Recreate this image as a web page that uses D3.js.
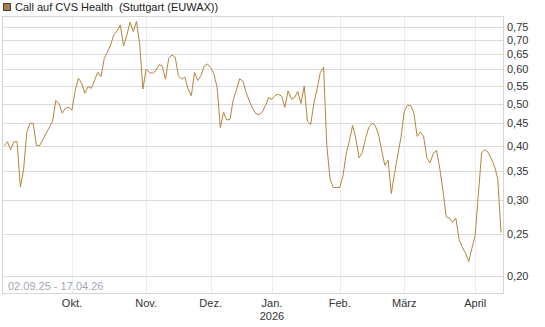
<!DOCTYPE html>
<html>
<head>
<meta charset="utf-8">
<script src="https://cdn.jsdelivr.net/npm/d3@7"></script>
<style>
  body { margin: 0; background: #fff; }
  svg { display: block; font-family: "Liberation Sans", Arial, sans-serif; }
</style>
</head>
<body>
<svg id="chart" width="545" height="327"></svg>
<script>
// one close per trading day, 02.09.25 - 17.04.26
const prices = [
  0.40, 0.408, 0.391, 0.408, 0.408, 0.321, 0.351, 0.43, 0.45, 0.45,
  0.40, 0.40, 0.413, 0.427, 0.44, 0.455, 0.508, 0.50, 0.475, 0.488,
  0.49, 0.483, 0.535, 0.572, 0.557, 0.528, 0.547, 0.542, 0.565, 0.59,
  0.577, 0.635, 0.657, 0.683, 0.72, 0.735, 0.759, 0.679, 0.718, 0.77,
  0.733, 0.773, 0.685, 0.54, 0.60, 0.59, 0.587, 0.595, 0.615, 0.61,
  0.569, 0.635, 0.647, 0.64, 0.58, 0.569, 0.575, 0.54, 0.521, 0.59,
  0.565, 0.58, 0.61, 0.617, 0.605, 0.585, 0.545, 0.44, 0.477, 0.458,
  0.46, 0.51, 0.538, 0.57, 0.563, 0.53, 0.507, 0.487, 0.474, 0.471,
  0.478, 0.495, 0.516, 0.511, 0.522, 0.525, 0.52, 0.49, 0.535, 0.512,
  0.516, 0.533, 0.50, 0.548, 0.455, 0.447, 0.501, 0.54, 0.59, 0.606,
  0.40, 0.335, 0.32, 0.32, 0.32, 0.34, 0.382, 0.41, 0.445, 0.415,
  0.375, 0.385, 0.415, 0.44, 0.45, 0.445, 0.425, 0.39, 0.36, 0.37,
  0.31, 0.345, 0.38, 0.418, 0.48, 0.495, 0.495, 0.475, 0.42, 0.43,
  0.42, 0.375, 0.365, 0.383, 0.39, 0.355, 0.315, 0.274, 0.272, 0.266,
  0.272, 0.243, 0.233, 0.226, 0.216, 0.232, 0.248, 0.31, 0.385, 0.391,
  0.386, 0.373, 0.358, 0.335, 0.252
];

// month starts, as trading-day index
const monthLabels = ["Okt.", "Nov.", "Dez.", "Jan.", "Feb.", "März", "April"];
const monthIdx = [21, 44, 64, 83, 104, 124, 146];

const yTicks = [0.20, 0.25, 0.30, 0.35, 0.40, 0.45, 0.50, 0.55, 0.60, 0.65, 0.70, 0.75];

const seriesName = "Call auf CVS Health  (Stuttgart (EUWAX))";
const rangeLabel = "02.09.25 - 17.04.26";

const svg = d3.select("#chart");
const plotLeft = 3, plotRight = 503, plotTop = 16, plotBottom = 293;

const x = d3.scaleLinear().domain([0, 154]).range([4.2, 501]);
const y = d3.scaleLog().domain([0.1827, 0.796]).range([plotBottom, plotTop]);

const fmt = d3.format(".2f");

// vertical grid
svg.append("g")
  .selectAll("line")
  .data(monthIdx)
  .join("line")
  .attr("x1", (d) => Math.round(x(d)) + 0.5)
  .attr("x2", (d) => Math.round(x(d)) + 0.5)
  .attr("y1", plotTop)
  .attr("y2", plotBottom)
  .attr("stroke", "#ececec");

// horizontal grid
svg.append("g")
  .selectAll("line")
  .data(yTicks)
  .join("line")
  .attr("x1", plotLeft)
  .attr("x2", plotRight)
  .attr("y1", (d) => Math.round(y(d)) + 0.5)
  .attr("y2", (d) => Math.round(y(d)) + 0.5)
  .attr("stroke", "#dcdcdc");

// frame
svg.append("rect")
  .attr("x", plotLeft - 0.5)
  .attr("y", plotTop + 0.5)
  .attr("width", plotRight - plotLeft + 1)
  .attr("height", plotBottom - plotTop)
  .attr("fill", "none")
  .attr("stroke", "#d6d6d6");

// y labels
svg.append("g")
  .selectAll("text")
  .data(yTicks)
  .join("text")
  .attr("x", 507)
  .attr("y", (d) => y(d) + 4)
  .attr("font-size", 11)
  .attr("fill", "#333")
  .text((d) => fmt(d).replace(".", ","));

// x labels
svg.append("g")
  .selectAll("text")
  .data(monthIdx)
  .join("text")
  .attr("x", (d) => x(d))
  .attr("y", 307)
  .attr("text-anchor", "middle")
  .attr("font-size", 11)
  .attr("fill", "#333")
  .text((d, i) => monthLabels[i]);

svg.append("text")
  .attr("x", x(monthIdx[3]))
  .attr("y", 320)
  .attr("text-anchor", "middle")
  .attr("font-size", 11)
  .attr("fill", "#333")
  .text("2026");

// date range
svg.append("text")
  .attr("x", 8)
  .attr("y", 290)
  .attr("font-size", 11)
  .attr("fill", "#a3a7b5")
  .text(rangeLabel);

// price line
const line = d3.line()
  .x((d, i) => x(i))
  .y((d) => y(d));

svg.append("path")
  .datum(prices)
  .attr("d", line)
  .attr("fill", "none")
  .attr("stroke", "#b5843c")
  .attr("stroke-width", 1)
  .attr("stroke-linejoin", "round");

// legend
svg.append("rect")
  .attr("x", 3.5)
  .attr("y", 3.5)
  .attr("width", 7)
  .attr("height", 7)
  .attr("fill", "#a57d48")
  .attr("stroke", "#444");

svg.append("text")
  .attr("x", 15)
  .attr("y", 11)
  .attr("font-size", 11)
  .attr("fill", "#222")
  .style("white-space", "pre")
  .text(seriesName);
</script>
</body>
</html>
